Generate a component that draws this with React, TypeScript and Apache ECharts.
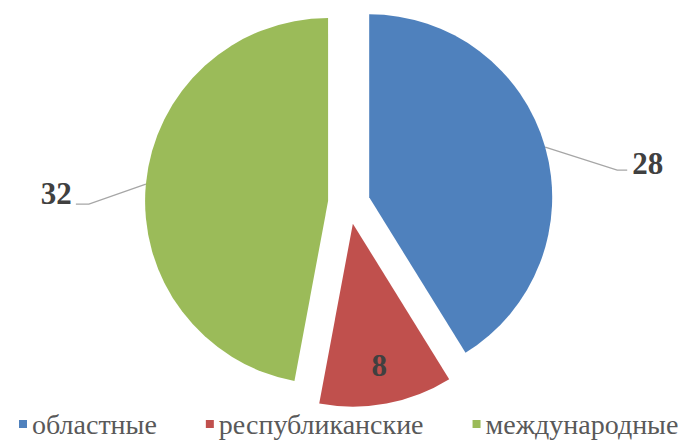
import React, { useEffect, useRef } from "react";
import * as echarts from "echarts";

const categories = ["областные", "республиканские", "международные"];
const values = [28, 8, 32];
const colors = ["#4F81BD", "#C0504D", "#9BBB59"];

const CX = 349;
const CY = 203;
const R = 183;
const EXPLODE = 21;
const SERIF = "'Liberation Serif', 'Times New Roman', serif";

export default function App() {
  const ref = useRef<HTMLDivElement>(null);
  useEffect(() => {
    if (!ref.current) return;
    const chart = echarts.init(ref.current, undefined, { renderer: "svg" });
    const total = values.reduce((a, b) => a + b, 0);
    let cum = 0;
    const series = values.map((v, i) => {
      const mid = ((cum + v / 2) / total) * 2 * Math.PI;
      cum += v;
      const dx = EXPLODE * Math.sin(mid);
      const dy = -EXPLODE * Math.cos(mid);
      return {
        type: "pie",
        silent: true,
        startAngle: 90,
        clockwise: true,
        center: [CX + dx, CY + dy],
        radius: R,
        avoidLabelOverlap: false,
        emphasis: { disabled: true },
        labelLayout: (p: any) => {
          if (p.dataIndex !== i) return {};
          if (i === 1) {
            const r = p.labelRect;
            return {
              x: r.x + r.width / 2 + 9,
              y: r.y + r.height / 2 + 49,
              align: "center",
              verticalAlign: "middle",
            };
          }
          const pts = p.labelLinePoints;
          if (!pts) return {};
          const a = pts[0];
          if (i === 0) {
            return {
              x: a[0] + 87,
              y: a[1] + 16,
              align: "left",
              verticalAlign: "middle",
              labelLinePoints: [a, [a[0] + 72, a[1] + 23], [a[0] + 82, a[1] + 23]],
            };
          }
          return {
            x: a[0] - 74,
            y: a[1] + 9,
            align: "right",
            verticalAlign: "middle",
            labelLinePoints: [a, [a[0] - 57, a[1] + 20], [a[0] - 70, a[1] + 20]],
          };
        },
        data: values.map((val, j) => ({
          value: val,
          name: categories[j],
          itemStyle: {
            color: j === i ? colors[j] : "rgba(0,0,0,0)",
            borderWidth: 0,
          },
          label: {
            show: j === i,
            position: j === 1 ? "inside" : "outside",
            formatter: "{c}",
            fontFamily: SERIF,
            fontSize: 31,
            fontWeight: "bold",
            color: "#404040",
          },
          labelLine: {
            show: j === i && j !== 1,
            lineStyle: { color: "#A6A6A6", width: 1.3 },
          },
        })),
      };
    });
    const legendText = { fontFamily: SERIF, fontSize: 28, color: "#595959" };
    chart.setOption({
      animation: false,
      legend: {
        bottom: -2,
        left: 14,
        icon: "rect",
        itemWidth: 8,
        itemHeight: 8,
        itemGap: 49,
        textStyle: legendText,
        data: categories.map((n, i) => ({
          name: n,
          itemStyle: { color: colors[i] },
          textStyle: legendText,
        })),
      },
      series,
    });
    return () => chart.dispose();
  }, []);
  return (
    <div
      ref={ref}
      style={{ position: "fixed", left: 0, top: 0, width: 691, height: 441, background: "#fff" }}
    />
  );
}
